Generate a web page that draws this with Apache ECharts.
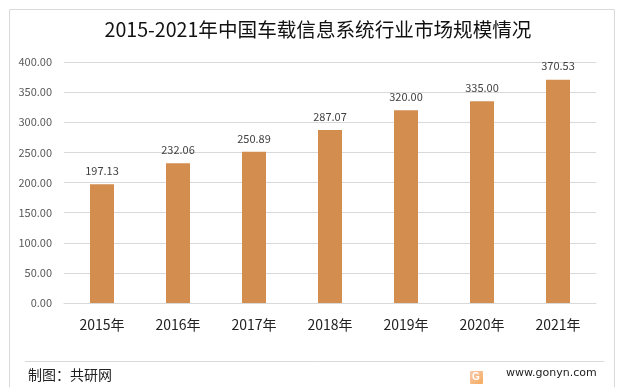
<!DOCTYPE html>
<html><head><meta charset="utf-8">
<style>html,body{margin:0;padding:0;background:#fff}#c{width:619px;height:387px}</style>
<script src="https://cdn.jsdelivr.net/npm/echarts@6/dist/echarts.min.js"></script>
</head><body><div id="c"></div>
<script>
const categories = ['2015年','2016年','2017年','2018年','2019年','2020年','2021年'];
const marketSize = [197.13,232.06,250.89,287.07,320.00,335.00,370.53];
const titleText = '2015-2021年中国车载信息系统行业市场规模情况';
const sourceText = '制图：共研网';
const siteText = 'www.gonyn.com';
const FONT = '"Noto Sans CJK SC","Noto Sans",sans-serif';
const chart = echarts.init(document.getElementById('c'), null, {renderer:'canvas'});
chart.setOption({
  animation:false,
  backgroundColor:'#fff',
  title:{text:titleText,left:313,top:15,textAlign:'center',
    textStyle:{fontFamily:FONT,fontSize:19.6,fontWeight:'normal',color:'#111'}},
  grid:{left:64,right:23,top:62,bottom:84},
  xAxis:{type:'category',data:categories,
    axisLine:{lineStyle:{color:'#d9d9d9',width:1}},axisTick:{show:false},
    axisLabel:{fontFamily:FONT,fontSize:14,color:'#222',margin:15}},
  yAxis:{type:'value',min:0,max:400,interval:50,
    axisLine:{show:false},axisTick:{show:false},
    splitLine:{lineStyle:{color:'#d9d9d9',width:1}},
    axisLabel:{fontFamily:FONT,fontSize:11,color:'#595959',margin:12,formatter:v=>v.toFixed(2)}},
  series:[{type:'bar',data:marketSize,barWidth:24,
    itemStyle:{color:'#d38d4f'},
    label:{show:true,position:'top',distance:8,fontFamily:FONT,fontSize:11,color:'#404040',
      formatter:p=>p.value.toFixed(2)}}],
  graphic:[
    {type:'polyline',silent:true,shape:{points:[[9.5,387],[9.5,9.5],[614.5,9.5],[614.5,387]]},style:{stroke:'#d9d9d9',fill:null,lineWidth:1}},
    {type:'line',silent:true,shape:{x1:25,y1:361.5,x2:604,y2:361.5},style:{stroke:'#d9d9d9',lineWidth:1}},
    {type:'text',left:28,top:368,style:{text:sourceText,font:'14px '+FONT,fill:'#222'}},
    {type:'text',left:506,top:368,style:{text:siteText,font:'11px "DejaVu Sans",sans-serif',fill:'#222'}},
    {type:'rect',silent:true,shape:{x:470,y:371,width:13,height:13,r:1},style:{fill:new echarts.graphic.LinearGradient(0,0,1,1,[{offset:0,color:'#f8c9b0'},{offset:1,color:'#f5ab5c'}])}},
    {type:'text',silent:true,left:472,top:372,style:{text:'G',font:'bold 10px sans-serif',fill:'#fff'}}
  ]
});
</script></body></html>
